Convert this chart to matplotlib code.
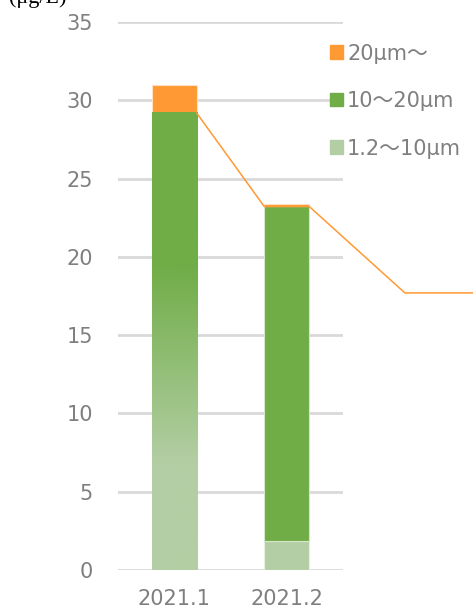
import numpy as np
import matplotlib.pyplot as plt
from matplotlib.colors import to_rgb
from matplotlib.patches import Patch

plt.rcParams['font.family'] = ['DejaVu Sans', 'Noto Sans CJK JP']

# 粒径別の濃度 (μg/L)
months = ['2021.1', '2021.2']
fine = [13.1, 1.85]      # 1.2～10μm
mid = [16.1, 21.37]      # 10～20μm
coarse = [1.75, 0.15]    # 20μm～
# 系列線 (10～20μm の上端をつなぐ線)
trend_x = [0.2, 0.8, 1.2, 2.05, 2.7]
trend_y = [29.18, 23.22, 23.22, 17.7, 17.7]

c_fine = '#b3cea4'
c_mid = '#70ad47'
c_coarse = '#ff9933'
grey = '#7f7f7f'

fig = plt.figure(figsize=(4.73, 6.13), dpi=100)
ax = fig.add_axes([0.2495, 0.0701, 0.4757, 0.8939])

x = np.arange(len(months))
w = 0.4
bottom2 = np.array(fine) + np.array(mid)
b1 = ax.bar(x, fine, w, color=c_fine, edgecolor='#e6f0df', linewidth=0.8, zorder=2)
b2 = ax.bar(x, mid, w, bottom=fine, color=c_mid, edgecolor='#d5e6c9', linewidth=0.8, zorder=2)
b3 = ax.bar(x, coarse, w, bottom=bottom2, color=c_coarse, edgecolor='#ffe0c0', linewidth=0.8, zorder=2)

# 2021.1 の棒はグラデーションで塗る
lo, hi = fine[0] - 6.3, fine[0] + 6.3
ys = np.linspace(0, bottom2[0], 400)
t = np.clip((ys - lo) / (hi - lo), 0, 1)[:, None]
grad = (1 - t) * np.array(to_rgb(c_fine)) + t * np.array(to_rgb(c_mid))
ax.imshow(grad[:, None, :], origin='lower', aspect='auto', zorder=3,
          extent=[x[0] - w / 2, x[0] + w / 2, 0, bottom2[0]], interpolation='bilinear')

ax.plot(trend_x, trend_y, color=c_coarse, lw=1.1, zorder=4, clip_on=False)

ax.set_xlim(-0.5, 1.5)
ax.set_ylim(0, 35)
ax.set_yticks(range(0, 36, 5))
ax.set_xticks(x, months)
ax.yaxis.grid(True, color='#d9d9d9', lw=2)
ax.set_axisbelow(True)
for s in ax.spines.values():
    s.set_visible(False)
ax.tick_params(length=0, labelsize=15, labelcolor=grey)
ax.tick_params(axis='y', pad=18)
ax.tick_params(axis='x', pad=14)

handles = [Patch(color=c_coarse), Patch(color=c_mid), Patch(color=c_fine)]
labels = ['20μm～', '10～20μm', '1.2～10μm']
leg = fig.legend(handles, labels, loc='upper left', bbox_to_anchor=(0.697, 0.929),
                 frameon=False, fontsize=15, labelcolor=grey, handlelength=0.62,
                 handleheight=0.62, handletextpad=0.22, labelspacing=1.32,
                 borderaxespad=0, borderpad=0)

fig.text(0.02, 1 - 3 / 613, '(μg/L)', fontsize=16, color='black',
         family=['Liberation Serif', 'DejaVu Serif'], va='baseline')

fig.savefig('out.png', dpi=100)
